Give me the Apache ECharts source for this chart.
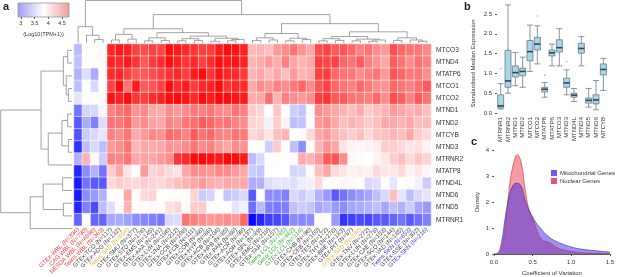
<!DOCTYPE html>
<html>
<head>
<meta charset="utf-8">
<script src="https://cdn.jsdelivr.net/npm/echarts@6/dist/echarts.min.js"></script>
<style>
html, body { margin: 0; padding: 0; background: #fff; }
#main { width: 617px; height: 277px; }
</style>
</head>
<body>
<div id="main"></div>
<script>
// ---- panel a: heatmap ----
var genes = ['MTCO3', 'MTND4', 'MTATP6', 'MTCO1', 'MTCO2', 'MTND1', 'MTND2', 'MTCYB',
    'MTND3', 'MTRNR2', 'MTATP8', 'MTND4L', 'MTND6', 'MTND5', 'MTRNR1'];

var samples = ['GTEx-WBL (N=394)', 'CAG WBL (N=790)', 'NESDA WBL (N=4896)', 'Twins WBL (N=363)',
    'GTEx-TCO (N=117)', 'GTEx-ADG (N=132)', 'Twins SAD (N=654)', 'GTEx-SMU (N=377)',
    'GTEx-STO (N=176)', 'GTEx-EMS (N=145)', 'GTEx-AAA (N=241)', 'GTEx-LVR (N=186)',
    'GTEx-VNA (N=212)', 'GTEx-CCB (N=108)', 'GTEx-FCB (N=111)', 'GTEx-COB (N=88)',
    'GTEx-HYP (N=86)', 'GTEx-ACB (N=104)', 'GTEx-HPB (N=85)', 'GTEx-PAN (N=88)',
    'GTEx-ACR (N=98)', 'GTEx-AOR (N=197)', 'GTEx-SPL (N=89)', 'GTEx-EMC (N=218)',
    'GTEx-TAR (N=157)', 'Twins LCL (N=765)', 'Geuv LCL (N=462)', 'GTEx-LCL (N=114)',
    'GTEx-CHB (N=96)', 'GTEx-CEB (N=103)', 'GTEx-TES (N=172)', 'GTEx-THY (N=278)',
    'GTEx-BRE (N=183)', 'GTEx-PIT (N=87)', 'GTEx-SAD (N=298)', 'GTEx-TNV (N=272)',
    'GTEx-LUN (N=278)', 'GTEx-CAE (N=153)', 'GTEx-SCO (N=144)', 'GTEx-VAD (N=185)',
    'Twins SKN (N=653)', 'GTEx-SSE (N=302)', 'GTEx-SKN (N=216)'];

// log10(TPM+1), one row per gene, one column per sample
var expr = [
  [3.68,3.95,3.95,3.97, 4.8,4.85,4.82,4.7,4.65,4.7,4.68,4.9,4.85,4.8,4.75,4.7,4.72,4.85,4.9,4.88,4.82, 4.22,4.25,4.2,4.35,4.4,4.5,4.38,4.3, 4.65,4.7,4.6,4.62,4.55,4.45,4.5,4.4,4.35, 4.65,4.55,4.5,4.48,4.42],
  [3.7,3.95,3.96,3.97, 4.82,4.78,4.85,4.75,4.6,4.72,4.78,4.9,4.82,4.75,4.8,4.7,4.78,4.9,4.85,4.88,4.82, 4.25,4.28,4.35,4.28,4.45,4.3,4.25,4.3, 4.72,4.68,4.7,4.55,4.5,4.6,4.45,4.38,4.3, 4.6,4.5,4.4,4.52,4.45],
  [3.65,3.82,3.62,3.96, 4.78,4.8,4.7,4.62,4.6,4.65,4.7,4.75,4.8,4.72,4.85,4.9,4.75,4.88,4.8,4.78,4.72, 4.25,4.3,4.22,4.3,4.2,4.35,4.25,4.28, 4.7,4.72,4.55,4.5,4.48,4.4,4.45,4.5,4.35, 4.62,4.55,4.48,4.5,4.4],
  [3.7,3.95,3.8,3.96, 4.7,4.9,4.5,4.85,4.6,4.62,4.7,4.9,4.78,4.85,4.72,4.8,4.82,4.9,4.75,4.8,4.78, 4.3,4.4,4.35,4.45,4.4,4.48,4.55,4.42, 4.62,4.7,4.55,4.5,4.45,4.55,4.48,4.4,4.38, 4.55,4.5,4.45,4.52,4.6],
  [3.85,3.95,3.96,3.97, 4.88,4.82,4.9,4.75,4.7,4.78,4.82,4.9,4.92,4.88,4.8,4.9,4.85,4.92,4.9,4.88,4.85, 4.28,4.3,4.52,4.25,4.45,4.4,4.35,4.4, 4.72,4.75,4.6,4.6,4.5,4.48,4.45,4.55,4.4, 4.65,4.58,4.45,4.6,4.5],
  [3.4,3.78,3.8,3.92, 4.45,4.5,4.55,4.38,4.42,4.3,4.28,4.4,4.35,4.4,4.48,4.45,4.5,4.42,4.4,4.5,4.45, 4.15,4.12,3.95,4.18,3.95,3.75,3.72,3.96, 4.4,4.35,4.3,4.25,4.2,4.28,4.15,4.2,4.25, 4.35,4.3,4.25,4.28,4.2],
  [3.3,3.62,3.45,3.82, 4.5,4.48,4.55,4.35,4.4,4.32,4.3,4.45,4.4,4.5,4.52,4.6,4.55,4.48,4.5,4.45,4.4, 4.12,4.1,3.9,4.15,4.0,3.7,3.72,3.95, 4.35,4.4,4.3,4.2,4.25,4.22,4.15,4.2,4.3, 4.3,4.25,4.3,4.2,4.22],
  [3.28,3.75,3.8,3.85, 4.45,4.4,4.5,4.3,4.35,4.42,4.38,4.55,4.5,4.45,4.6,4.5,4.55,4.45,4.42,4.5,4.48, 4.1,4.15,4.05,4.2,4.25,3.95,3.96,4.1, 4.3,4.35,4.25,4.2,4.15,4.2,4.1,4.18,4.2, 4.25,4.2,4.3,4.15,4.1],
  [3.15,3.7,3.8,3.7, 4.35,4.4,4.5,4.25,4.3,4.28,4.3,4.38,4.35,4.42,4.5,4.4,4.45,4.35,4.3,4.4,4.38, 3.95,3.96,3.75,4.15,3.95,3.7,3.5,3.95, 4.25,4.38,4.3,4.05,4.0,3.98,4.0,4.02,4.15, 4.15,4.1,4.05,4.08,4.0],
  [3.65,4.25,3.97,3.75, 4.45,4.42,4.5,4.3,4.32,4.3,4.35,4.4,4.75,4.8,4.9,4.92,4.88,4.85,4.92,4.9,4.85, 3.68,3.8,3.95,3.96,3.95,3.97,4.28,4.25, 4.35,4.6,4.62,4.4,3.97,3.96,3.95,4.0,4.05, 4.15,4.2,4.1,4.18,4.12],
  [3.1,3.5,3.65,3.4, 4.15,4.3,4.05,3.95,4.35,4.12,4.15,4.1,4.05,4.3,4.4,4.38,4.35,4.42,4.4,4.35,4.3, 3.75,3.72,3.96,3.95,3.95,3.78,3.8,3.97, 4.2,4.3,4.1,4.05,4.0,4.02,4.0,4.1,4.05, 4.05,4.1,4.0,4.05,3.98],
  [3.05,3.4,3.3,3.3, 4.1,4.15,4.12,4.1,4.15,4.12,4.1,4.15,4.2,4.25,4.3,4.35,4.28,4.25,4.3,4.28,4.3, 3.62,3.65,3.82,3.85,3.85,3.82,3.88,3.9, 4.1,3.95,3.96,3.98,3.97,3.95,3.8,3.82,3.96, 3.85,3.95,3.96,3.9,3.75],
  [3.05,3.5,3.55,3.65, 3.96,3.95,4.3,3.97,4.1,4.12,3.95,3.95,3.96,3.95,4.12,3.75,3.78,3.96,3.72,3.75,3.8, 3.3,3.95,3.5,3.5,3.45,3.8,3.75,3.82, 3.65,3.55,3.3,3.4,3.5,3.55,3.6,3.7,3.8, 4.2,3.85,3.7,3.8,3.85],
  [3.1,3.45,3.25,3.7, 3.82,3.96,4.25,3.95,3.96,3.97,3.95,4.08,4.1,3.96,4.15,4.15,3.95,3.96,3.95,3.85,3.9, 3.38,3.68,3.45,3.42,3.45,3.7,3.75,3.72, 3.6,3.65,3.55,3.5,3.6,3.62,3.65,3.7,3.6, 3.7,3.65,3.75,3.6,3.55],
  [3.35,3.96,3.35,3.35, 3.6,3.62,3.58,3.5,3.48,3.45,3.42,3.8,3.82,4.5,4.45,4.4,4.35,4.38,4.4,4.35,4.55, 2.98,3.1,3.2,3.22,3.3,3.5,3.48,3.5, 3.96,3.95,3.55,3.15,3.2,3.25,3.22,3.3,3.3, 3.35,3.4,3.3,3.38,3.45]
];

// dendrograms: [left, right, mergeHeight]
var colTree = [
  [0, [1, [2, 3, 0.08], 0.18], 0.38],
  [
    [
      [[4, 5, 0.07], [6, 7, 0.09], 0.2],
      [[[8, 9, 0.05], [10, 11, 0.06], 0.12],
       [[[12, 13, 0.05], [14, 15, 0.06], 0.1], [[16, 17, 0.04], [[18, 19, 0.05], 20, 0.08], 0.11], 0.16], 0.24],
      0.33],
    [
      [[[21, 22, 0.06], [23, 24, 0.07], 0.12], [[25, 26, 0.05], [27, 28, 0.08], 0.11], 0.22],
      [[[[29, 30, 0.05], [31, 32, 0.06], 0.1], [[33, 34, 0.05], [[35, 36, 0.04], 37, 0.07], 0.09], 0.15],
       [[38, 39, 0.06], [40, [41, 42, 0.04], 0.07], 0.12], 0.26],
      0.45],
    0.66],
  0.99];

var rowTree = [
  [[[0, 1, 0.06], [2, [3, 4, 0.05], 0.08], 0.12],
   [[[5, 6, 0.06], [7, 8, 0.05], 0.14], 9, 0.33], 0.43],
  [[[10, 11, 0.13], [12, 13, 0.12], 0.4], 14, 0.58],
  0.99];

var keyTicks = [3, 3.5, 4, 4.5];

// ---- panel b: boxplot ----
var boxGenes = ['MTRNR1', 'MTRNR2', 'MTND1', 'MTND2', 'MTCO1', 'MTCO2', 'MTATP8', 'MTATP6',
    'MTCO3', 'MTND3', 'MTND4L', 'MTND4', 'MTND5', 'MTND6', 'MTCYB'];
var boxLow  = [0.10, 0.50, 0.69, 0.65, 1.05, 1.24, 0.40, 1.19, 1.19, 0.46, 0.29, 1.19, 0.15, 0.08, 0.57];
var boxQ1   = [0.13, 0.65, 0.91, 0.94, 1.32, 1.59, 0.53, 1.44, 1.54, 0.65, 0.40, 1.51, 0.25, 0.23, 0.96];
var boxMed  = [0.18, 0.81, 1.02, 1.05, 1.55, 1.74, 0.60, 1.52, 1.65, 0.76, 0.45, 1.63, 0.32, 0.33, 1.10];
var boxQ3   = [0.46, 1.58, 1.19, 1.13, 1.83, 1.91, 0.65, 1.59, 1.85, 0.88, 0.50, 1.76, 0.38, 0.46, 1.24];
var boxHigh = [0.74, 2.73, 1.53, 1.41, 2.22, 2.20, 0.77, 1.74, 2.13, 1.09, 0.62, 1.93, 0.62, 0.82, 1.38];
var boxOutliers = [[0, 1.12], [5, 2.45], [9, 1.30], [6, 0.95]];

// ---- panel c: density ----
var cvGrid = [0, 0.05, 0.1, 0.15, 0.2, 0.25, 0.3, 0.35, 0.4, 0.45, 0.5, 0.55, 0.6, 0.65,
    0.7, 0.75, 0.8, 0.9, 1.0, 1.1, 1.2, 1.3, 1.4, 1.5];
var mitoDensity = [0, 0.03, 0.5, 1.5, 2.25, 2.65, 2.72, 2.62, 2.1, 1.7, 1.42, 1.18, 1.0, 0.82,
    0.68, 0.57, 0.49, 0.37, 0.27, 0.2, 0.16, 0.13, 0.1, 0.08];
var nuclearDensity = [0, 0, 0.25, 1.2, 2.6, 3.45, 3.82, 3.55, 2.55, 1.75, 1.38, 0.95, 0.62, 0.5,
    0.46, 0.38, 0.27, 0.16, 0.1, 0.06, 0.04, 0.03, 0.02, 0.02];

var FONT = 'Liberation Sans, Arial, sans-serif';

function tissueColor(name) {
    if (name.indexOf('WBL') >= 0) return '#f03a3a';
    if (name.indexOf('LCL') >= 0) return '#3aaa3a';
    if (name.indexOf('SAD') >= 0) return '#f0b43c';
    if (name.indexOf('SKN') >= 0) return '#3a3af0';
    return '#444';
}

// walk a nested tree and return one link per merge: [posA, hA, posB, hB, h]
function treeLinks(tree) {
    var links = [];
    function walk(node) {
        if (typeof node === 'number') return {pos: node, h: 0};
        var a = walk(node[0]), b = walk(node[1]);
        links.push([a.pos, a.h, b.pos, b.h, node[2]]);
        return {pos: (a.pos + b.pos) / 2, h: node[2]};
    }
    walk(tree);
    return links;
}

var heatData = [];
expr.forEach(function (row, r) {
    row.forEach(function (v, c) { heatData.push([c, r, v]); });
});

var boxData = boxGenes.map(function (g, i) {
    return [boxLow[i], boxQ1[i], boxMed[i], boxQ3[i], boxHigh[i]];
});

var dendroStyle = {stroke: '#8c8c8c', lineWidth: 0.8, fill: null};

var myChart = echarts.init(document.getElementById('main'));
myChart.setOption({
    animation: false,
    textStyle: {fontFamily: FONT},
    title: [
        {text: 'a', left: 3, top: 1, padding: 0, textStyle: {fontSize: 11, fontWeight: 'bold', color: '#222', fontFamily: FONT}},
        {text: 'b', left: 464, top: 1, padding: 0, textStyle: {fontSize: 11, fontWeight: 'bold', color: '#222', fontFamily: FONT}},
        {text: 'c', left: 471, top: 136, padding: 0, textStyle: {fontSize: 11, fontWeight: 'bold', color: '#222', fontFamily: FONT}}
    ],
    visualMap: {
        show: false,
        type: 'continuous',
        seriesIndex: 0,
        min: 2.95,
        max: 4.95,
        inRange: {color: ['#0000ff', '#ffffff', '#ff0000']}
    },
    legend: {
        data: ['Mitochondrial Genes', 'Nuclear Genes'],
        orient: 'vertical',
        left: 551,
        top: 170,
        padding: 0,
        itemGap: 2,
        itemWidth: 6,
        itemHeight: 6,
        icon: 'rect',
        selectedMode: false,
        textStyle: {fontSize: 6, color: '#333', padding: [0, 0, 0, -2]}
    },
    grid: [
        {left: 74, top: 44, width: 357, height: 191},
        {left: 74, top: 0, width: 357, height: 43},
        {left: 0, top: 44, width: 72, height: 191},
        {left: 18, top: 3, width: 51, height: 14, show: true, borderColor: '#999', borderWidth: 0.8,
            backgroundColor: {type: 'linear', x: 0, y: 0, x2: 1, y2: 0, colorStops: [
                {offset: 0, color: '#9c9cf2'}, {offset: 0.5, color: '#ffffff'}, {offset: 1, color: '#f29c9c'}]}},
        {left: 497, top: 14, width: 110, height: 99},
        {left: 494, top: 150, width: 117, height: 105}
    ],
    xAxis: [
        {gridIndex: 0, type: 'category', data: samples, position: 'bottom',
            axisLine: {show: false}, axisTick: {show: false},
            axisLabel: {interval: 0, rotate: 45, fontSize: 6, margin: 3,
                color: function (v) { return tissueColor(v); }}},
        {gridIndex: 1, type: 'value', min: -0.5, max: 42.5, show: false},
        {gridIndex: 2, type: 'value', min: 0, max: 1, inverse: true, show: false},
        {gridIndex: 3, type: 'value', min: 2.9, max: 4.75, splitLine: {show: false},
            axisLine: {show: false},
            axisTick: {customValues: keyTicks, length: 2, lineStyle: {color: '#666'}},
            axisLabel: {customValues: keyTicks, fontSize: 5.5, margin: 3, color: '#333'},
            name: '(Log10(TPM+1))', nameLocation: 'middle', nameGap: 14,
            nameTextStyle: {fontSize: 5.5, color: '#333'}},
        {gridIndex: 4, type: 'category', data: boxGenes,
            axisLine: {show: false},
            axisTick: {alignWithLabel: true, length: 2, lineStyle: {color: '#555'}},
            axisLabel: {interval: 0, rotate: 90, fontSize: 6, margin: 4, color: '#333'}},
        {gridIndex: 5, type: 'value', min: 0, max: 1.5, interval: 0.5, splitLine: {show: false},
            axisLine: {show: true, lineStyle: {color: '#333', width: 0.8}},
            axisTick: {length: 2, lineStyle: {color: '#555'}},
            axisLabel: {fontSize: 6, margin: 5, color: '#333',
                formatter: function (v) { return v.toFixed(1); }},
            name: 'Coefficient of Variation', nameLocation: 'middle', nameGap: 16,
            nameTextStyle: {fontSize: 6, color: '#333'}}
    ],
    yAxis: [
        {gridIndex: 0, type: 'category', data: genes, inverse: true, position: 'right',
            axisLine: {show: false}, axisTick: {show: false},
            axisLabel: {fontSize: 6.5, margin: 5, color: '#333'}},
        {gridIndex: 1, type: 'value', min: 0, max: 1, show: false},
        {gridIndex: 2, type: 'value', min: -0.5, max: 14.5, inverse: true, show: false},
        {gridIndex: 3, type: 'value', min: 0, max: 1, show: false},
        {gridIndex: 4, type: 'value', min: 0, max: 2.5, interval: 0.5, splitLine: {show: false},
            axisLine: {show: false},
            axisTick: {show: true, length: 2, lineStyle: {color: '#555'}},
            axisLabel: {fontSize: 6, margin: 5, color: '#333',
                formatter: function (v) { return v.toFixed(1); }},
            name: 'Standardised Median Expression', nameLocation: 'middle', nameGap: 21,
            nameTextStyle: {fontSize: 6, color: '#333'}},
        {gridIndex: 5, type: 'value', min: 0, max: 4, interval: 1, splitLine: {show: false},
            axisLine: {show: false},
            axisTick: {show: true, length: 2, lineStyle: {color: '#555'}},
            axisLabel: {fontSize: 6, margin: 5, color: '#333'},
            name: 'Density', nameLocation: 'middle', nameGap: 14,
            nameTextStyle: {fontSize: 6, color: '#333'}}
    ],
    series: [
        {
            type: 'heatmap',
            xAxisIndex: 0, yAxisIndex: 0,
            data: heatData,
            itemStyle: {borderColor: 'rgba(255,255,255,0.85)', borderWidth: 0.6}
        },
        {
            type: 'custom',
            xAxisIndex: 1, yAxisIndex: 1,
            encode: {x: [0, 2], y: [1, 3, 4]},
            data: treeLinks(colTree),
            renderItem: function (params, api) {
                var pts = [
                    api.coord([api.value(0), api.value(1)]),
                    api.coord([api.value(0), api.value(4)]),
                    api.coord([api.value(2), api.value(4)]),
                    api.coord([api.value(2), api.value(3)])
                ];
                return {type: 'polyline', shape: {points: pts}, style: dendroStyle};
            }
        },
        {
            type: 'custom',
            xAxisIndex: 2, yAxisIndex: 2,
            encode: {x: [1, 3, 4], y: [0, 2]},
            data: treeLinks(rowTree),
            renderItem: function (params, api) {
                var pts = [
                    api.coord([api.value(1), api.value(0)]),
                    api.coord([api.value(4), api.value(0)]),
                    api.coord([api.value(4), api.value(2)]),
                    api.coord([api.value(3), api.value(2)])
                ];
                return {type: 'polyline', shape: {points: pts}, style: dendroStyle};
            }
        },
        {
            type: 'boxplot',
            xAxisIndex: 4, yAxisIndex: 4,
            data: boxData,
            boxWidth: [6, 6],
            itemStyle: {color: '#a9d7e8', borderColor: '#6b7b84', borderWidth: 0.8}
        },
        {
            type: 'scatter',
            xAxisIndex: 4, yAxisIndex: 4,
            data: boxMed.map(function (m, i) { return [i, m]; }),
            symbol: 'rect',
            symbolSize: [6, 1.6],
            itemStyle: {color: '#1d3550'},
            z: 5
        },
        {
            type: 'scatter',
            xAxisIndex: 4, yAxisIndex: 4,
            data: boxOutliers,
            symbolSize: 1.6,
            itemStyle: {color: '#999'}
        },
        {
            name: 'Nuclear Genes',
            type: 'line',
            xAxisIndex: 5, yAxisIndex: 5,
            data: cvGrid.map(function (x, i) { return [x, nuclearDensity[i]]; }),
            smooth: 0.4,
            symbol: 'none',
            itemStyle: {color: '#e0566e'},
            lineStyle: {color: '#c03040', width: 0.6},
            areaStyle: {color: 'rgba(236,52,64,0.7)'}
        },
        {
            name: 'Mitochondrial Genes',
            type: 'line',
            xAxisIndex: 5, yAxisIndex: 5,
            data: cvGrid.map(function (x, i) { return [x, mitoDensity[i]]; }),
            smooth: 0.4,
            symbol: 'none',
            itemStyle: {color: '#6a5cf0'},
            lineStyle: {color: '#3020c0', width: 0.6},
            areaStyle: {color: 'rgba(52,36,236,0.7)'}
        }
    ]
});
</script>
</body>
</html>
